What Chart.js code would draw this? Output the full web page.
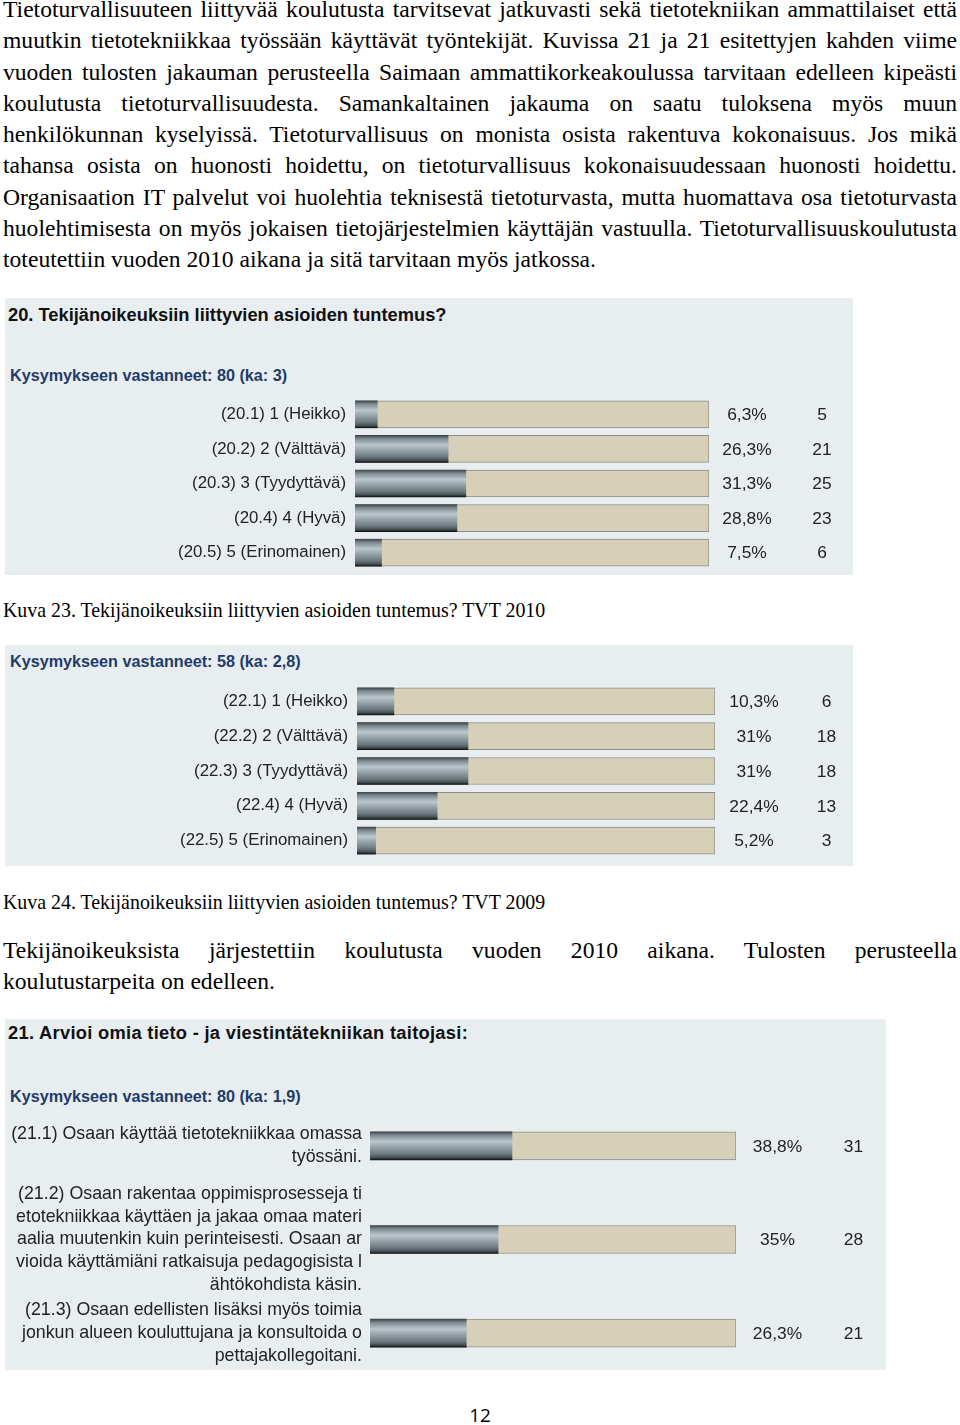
<!DOCTYPE html>
<html>
<head>
<meta charset="utf-8">
<script src="https://cdn.jsdelivr.net/npm/chart.js@4.4.1/dist/chart.umd.min.js"></script>
<style>
body { margin:0; background:#fff; width:960px; height:1425px; position:relative; overflow:hidden; }
.txt { position:absolute; left:3px; width:954px; font-family:"Liberation Serif","Times New Roman",serif; font-size:23.6px; line-height:31.3px; color:#000; }
.txt div { white-space:nowrap; }
.j { text-align:justify; text-align-last:justify; }
.panel { position:absolute; left:5px; background:#e8edf0; }
.qt { position:absolute; left:8px; font:bold 18.3px/22px "Liberation Sans",Arial,sans-serif; color:#111; white-space:nowrap; }
.ka { position:absolute; left:10px; font:bold 16.2px/20px "Liberation Sans",Arial,sans-serif; color:#1d3c6a; white-space:nowrap; }
.cap { position:absolute; left:3px; font:19.9px/22px "Liberation Serif",serif; white-space:nowrap; }
.pg { position:absolute; left:0; width:960px; text-align:center; font:19px/22px "Open Sans",sans-serif; }
canvas { position:absolute; left:0; }
</style>
</head>
<body>

<div class="txt" style="top:-6px">
  <div class="j">Tietoturvallisuuteen liittyvää koulutusta tarvitsevat jatkuvasti sekä tietotekniikan ammattilaiset että</div>
  <div class="j">muutkin tietotekniikkaa työssään käyttävät työntekijät. Kuvissa 21 ja 21 esitettyjen kahden viime</div>
  <div class="j">vuoden tulosten jakauman perusteella Saimaan ammattikorkeakoulussa tarvitaan edelleen kipeästi</div>
  <div class="j">koulutusta tietoturvallisuudesta. Samankaltainen jakauma on saatu tuloksena myös muun</div>
  <div class="j">henkilökunnan kyselyissä. Tietoturvallisuus on monista osista rakentuva kokonaisuus. Jos mikä</div>
  <div class="j">tahansa osista on huonosti hoidettu, on tietoturvallisuus kokonaisuudessaan huonosti hoidettu.</div>
  <div class="j">Organisaation IT palvelut voi huolehtia teknisestä tietoturvasta, mutta huomattava osa tietoturvasta</div>
  <div class="j">huolehtimisesta on myös jokaisen tietojärjestelmien käyttäjän vastuulla. Tietoturvallisuuskoulutusta</div>
  <div>toteutettiin vuoden 2010 aikana ja sitä tarvitaan myös jatkossa.</div>
</div>

<div class="panel" style="top:298px;width:848px;height:277px"></div>
<div class="qt" style="top:304px">20. Tekijänoikeuksiin liittyvien asioiden tuntemus?</div>
<div class="ka" style="top:365px">Kysymykseen vastanneet: 80 (ka: 3)</div>
<canvas id="c1" width="860" height="173" style="top:397px"></canvas>

<div class="cap" style="top:599px">Kuva 23. Tekijänoikeuksiin liittyvien asioiden tuntemus? TVT 2010</div>

<div class="panel" style="top:645px;width:848px;height:221px"></div>
<div class="ka" style="top:651px">Kysymykseen vastanneet: 58 (ka: 2,8)</div>
<canvas id="c2" width="860" height="174" style="top:684px"></canvas>

<div class="cap" style="top:891px">Kuva 24. Tekijänoikeuksiin liittyvien asioiden tuntemus? TVT 2009</div>

<div class="txt" style="top:935px">
  <div class="j">Tekijänoikeuksista järjestettiin koulutusta vuoden 2010 aikana. Tulosten perusteella</div>
  <div>koulutustarpeita on edelleen.</div>
</div>

<div class="panel" style="top:1019px;width:881px;height:351px"></div>
<div class="qt" style="top:1022px;letter-spacing:0.3px">21. Arvioi omia tieto - ja viestintätekniikan taitojasi:</div>
<div class="ka" style="top:1086px">Kysymykseen vastanneet: 80 (ka: 1,9)</div>
<canvas id="c3" width="890" height="281" style="top:1099px"></canvas>

<div class="pg" style="top:1404px">12</div>

<script>
// kuva 23 (TVT 2010)
const labels2010 = ['(20.1) 1 (Heikko)', '(20.2) 2 (Välttävä)', '(20.3) 3 (Tyydyttävä)', '(20.4) 4 (Hyvä)', '(20.5) 5 (Erinomainen)'];
const pct2010 = [6.3, 26.3, 31.3, 28.8, 7.5];
const n2010 = [5, 21, 25, 23, 6];

// kuva 24 (TVT 2009)
const labels2009 = ['(22.1) 1 (Heikko)', '(22.2) 2 (Välttävä)', '(22.3) 3 (Tyydyttävä)', '(22.4) 4 (Hyvä)', '(22.5) 5 (Erinomainen)'];
const pct2009 = [10.3, 31, 31, 22.4, 5.2];
const n2009 = [6, 18, 18, 13, 3];

// kysymys 21
const labelsTaidot = [
  ['(21.1) Osaan käyttää tietotekniikkaa omassa', 'työssäni.'],
  ['(21.2) Osaan rakentaa oppimisprosesseja ti', 'etotekniikkaa käyttäen ja jakaa omaa materi', 'aalia muutenkin kuin perinteisesti. Osaan ar', 'vioida käyttämiäni ratkaisuja pedagogisista l', 'ähtökohdista käsin.'],
  ['(21.3) Osaan edellisten lisäksi myös toimia', 'jonkun alueen kouluttujana ja konsultoida o', 'pettajakollegoitani.']
];
const pctTaidot = [38.8, 35, 26.3];
const nTaidot = [31, 28, 21];

const FONT = '"Liberation Sans", Arial, sans-serif';

function fmtPct(v) {
  return String(v).replace('.', ',') + '%';
}

// metallinen harmaa palkki
function metal(ctx, h) {
  const chart = ctx.chart;
  if (!chart.chartArea || !chart.scales.y) return '#7d8a90';
  const y = chart.scales.y.getPixelForValue(ctx.dataIndex);
  const g = chart.ctx.createLinearGradient(0, y - h / 2, 0, y + h / 2);
  g.addColorStop(0, '#3e474c');
  g.addColorStop(0.12, '#7c898f');
  g.addColorStop(0.35, '#bcc7cc');
  g.addColorStop(0.5, '#9eabb1');
  g.addColorStop(0.8, '#6b777d');
  g.addColorStop(0.92, '#454f54');
  g.addColorStop(1, '#101315');
  return g;
}

const valueCols = {
  id: 'valueCols',
  afterDatasetsDraw(chart, args, opts) {
    const c = chart.ctx;
    const area = chart.chartArea;
    c.save();
    c.font = '17.4px ' + FONT;
    c.fillStyle = '#222';
    c.textAlign = 'center';
    c.textBaseline = 'middle';
    opts.pct.forEach((v, i) => {
      const y = chart.scales.y.getPixelForValue(i);
      c.fillText(fmtPct(v), area.right + opts.pctOffset, y + 1);
      c.fillText(String(opts.n[i]), area.right + opts.nOffset, y + 1);
    });
    c.restore();
  }
};

function makeChart(id, labels, pct, n, cfg) {
  new Chart(document.getElementById(id), {
    type: 'bar',
    data: {
      labels: labels,
      datasets: [
        {
          data: pct,
          grouped: false,
          order: 1,
          barThickness: cfg.bar,
          backgroundColor: ctx => metal(ctx, cfg.bar),
          borderWidth: 0
        },
        {
          data: labels.map(() => 100),
          grouped: false,
          order: 2,
          barThickness: cfg.bar,
          backgroundColor: '#d7d0b8',
          borderColor: '#8e8e86',
          borderWidth: 1,
          borderSkipped: false
        }
      ]
    },
    options: {
      indexAxis: 'y',
      responsive: false,
      animation: false,
      layout: { padding: { left: 0, right: cfg.right, top: 0, bottom: 0 } },
      plugins: {
        legend: { display: false },
        tooltip: { enabled: false },
        valueCols: { pct: pct, n: n, pctOffset: cfg.pctOff, nOffset: cfg.nOff }
      },
      scales: {
        x: { display: false, min: 0, max: 100 },
        y: {
          grid: { display: false, drawTicks: false },
          border: { display: false },
          afterFit: s => {
            s.width = cfg.axis;
            s.paddingTop = 0;
            s.paddingBottom = 0;
          },
          ticks: {
            autoSkip: false,
            padding: cfg.pad,
            color: '#222',
            font: { family: FONT, size: cfg.fs, lineHeight: cfg.lh }
          }
        }
      }
    },
    plugins: [valueCols]
  });
}

makeChart('c1', labels2010, pct2010, n2010, { bar: 27, right: 151, axis: 355, pad: 9, fs: 16.8, lh: 1.2, pctOff: 38, nOff: 113 });
makeChart('c2', labels2009, pct2009, n2009, { bar: 27, right: 145, axis: 357, pad: 9, fs: 16.8, lh: 1.2, pctOff: 39, nOff: 111.5 });
makeChart('c3', labelsTaidot, pctTaidot, nTaidot, { bar: 28, right: 154, axis: 370, pad: 8, fs: 17.8, lh: '22.6px', pctOff: 41.5, nOff: 117.5 });
</script>
</body>
</html>
